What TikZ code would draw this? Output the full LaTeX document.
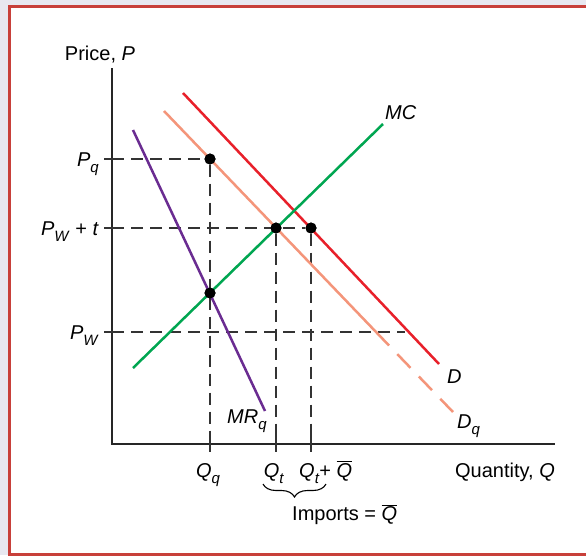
\documentclass[tikz,border=0pt]{standalone}
\usepackage{fontspec}
\setmainfont{Liberation Sans}
\usetikzlibrary{decorations.pathreplacing}

\definecolor{bgline}{HTML}{E8E8F0}
\definecolor{framered}{HTML}{C8403A}
\definecolor{dred}{HTML}{E8202A}
\definecolor{salmon}{HTML}{F4957A}
\definecolor{mcgreen}{HTML}{00A651}
\definecolor{mrpurple}{HTML}{6A2C91}

\newcommand{\vi}[1]{\textit{#1}}
\newcommand{\lsub}[2]{\vi{#1}\raisebox{-6pt}{\fontsize{15}{16}\selectfont\vi{#2}}}
\newcommand{\qbar}{$\overline{\mbox{\vi{Q}}}$}

\begin{document}
\begin{tikzpicture}[x=1pt,y=-1pt]
    % Style definitions
    \tikzset{curve/.style={line width=2.5pt},
             guide/.style={black!80, line width=1.3pt, dash pattern=on 12pt off 7pt},
             dot/.style={circle, fill=black, inner sep=0pt, minimum size=11pt},
             lbl/.style={inner sep=0pt, font=\fontsize{20}{22}\selectfont}}
    \tikzstyle{axis} = [line width=2.7pt, black!85]
    \tikzstyle{tick} = [line width=1.3pt, black!80]

    % Frame
    \useasboundingbox (0,0) rectangle (586,555);
    \fill[bgline] (0,0) rectangle (586,555);
    \fill[white] (9,6) rectangle (586,554);
    \draw[framered, line width=3pt] (590,6) -- (9,6) -- (9,554) -- (590,554);

    % Axes
    \coordinate (ytop) at (112,68);
    \coordinate (origin) at (112,444);
    \coordinate (xend) at (555,444);
    \draw[axis] (ytop) -- (origin) -- (xend);

    % Market points
    \node (pq) [dot] at (210,159) {};
    \node (pt) [dot] at (276,228) {};
    \node (pd) [dot] at (311,228) {};
    \node (pm) [dot] at (210,293) {};

    % Axis feet of the guides
    \coordinate (ypq) at (112,159);
    \coordinate (ypt) at (112,228);
    \coordinate (ypw) at (112,332);
    \coordinate (pwend) at (405,332);
    \coordinate (xqq) at (210,444);
    \coordinate (xqt) at (276,444);
    \coordinate (xqd) at (311,444);

    % Dashed guides
    \draw[guide] (ypq) -- (pq);
    \draw[guide] (ypt) -- (pd);
    \draw[guide] (ypw) -- (pwend);
    \draw[guide] (pq) -- (xqq);
    \draw[guide] (pt) -- (xqt);
    \draw[guide] (pd) -- (xqd);

    % Ticks
    \foreach \y in {159,228,332}
        \draw[tick] (104,\y) -- (120,\y);
    \foreach \x in {210,276,311}
        \draw[tick] (\x,436) -- (\x,452);

    % Curves
    \coordinate (mr1) at (133,130);
    \coordinate (mr2) at (265,411);
    \coordinate (dq1) at (164,111);
    \coordinate (dq2) at (389,345.5);
    \coordinate (dq3) at (453,412);
    \coordinate (d1) at (183,93);
    \coordinate (d2) at (439,364);
    \coordinate (mc1) at (133,368);
    \coordinate (mc2) at (383,124);
    \draw[curve, salmon] (dq1) -- (dq2);
    \draw[curve, salmon, dash pattern=on 19pt off 12pt, dash phase=19pt] (dq2) -- (dq3);
    \draw[curve, dred] (d1) -- (d2);
    \draw[curve, mcgreen] (mc1) -- (mc2);
    \draw[curve, mrpurple] (mr1) -- (mr2);

    % Redraw the points on top
    \foreach \p in {pq,pt,pd,pm}
        \fill (\p) circle (5.5pt);

    % Axis labels
    \node (ylab) [lbl] at (100,55) {Price, \vi{P}};
    \node (xlab) [lbl, anchor=base east] at (555,477) {Quantity, \vi{Q}};

    % Price labels
    \node (lpq) [lbl, anchor=base east] at (99,166) {\lsub{P}{q}};
    \node (lpt) [lbl, anchor=base east] at (99,235) {\lsub{P}{W} + \vi{t}};
    \node (lpw) [lbl, anchor=base east] at (99,339) {\lsub{P}{W}};

    % Quantity labels
    \node (lqq) [lbl, anchor=base] at (208,477) {\lsub{Q}{q}};
    \node (lqt) [lbl, anchor=base] at (274,477) {\lsub{Q}{t}};
    \node (lqd) [lbl, anchor=base west] at (299,477) {\lsub{Q}{t}+ \qbar};

    % Imports brace
    \coordinate (bl) at (263,484);
    \coordinate (br) at (326,484);
    \draw[line width=1.1pt, decorate, decoration={brace, amplitude=13pt}] (br) -- (bl);
    \node (imp) [lbl, anchor=west] at (292,515) {Imports = \qbar};

    % Curve labels
    \node (lmc) [lbl, anchor=base west] at (385,119) {\vi{MC}};
    \node (ld) [lbl, anchor=base west] at (447,383) {\vi{D}};
    \node (ldq) [lbl, anchor=base west] at (457,428) {\lsub{D}{q}};
    \node (lmr) [lbl, anchor=base west] at (227,423) {\lsub{MR}{q}};
\end{tikzpicture}
\end{document}
